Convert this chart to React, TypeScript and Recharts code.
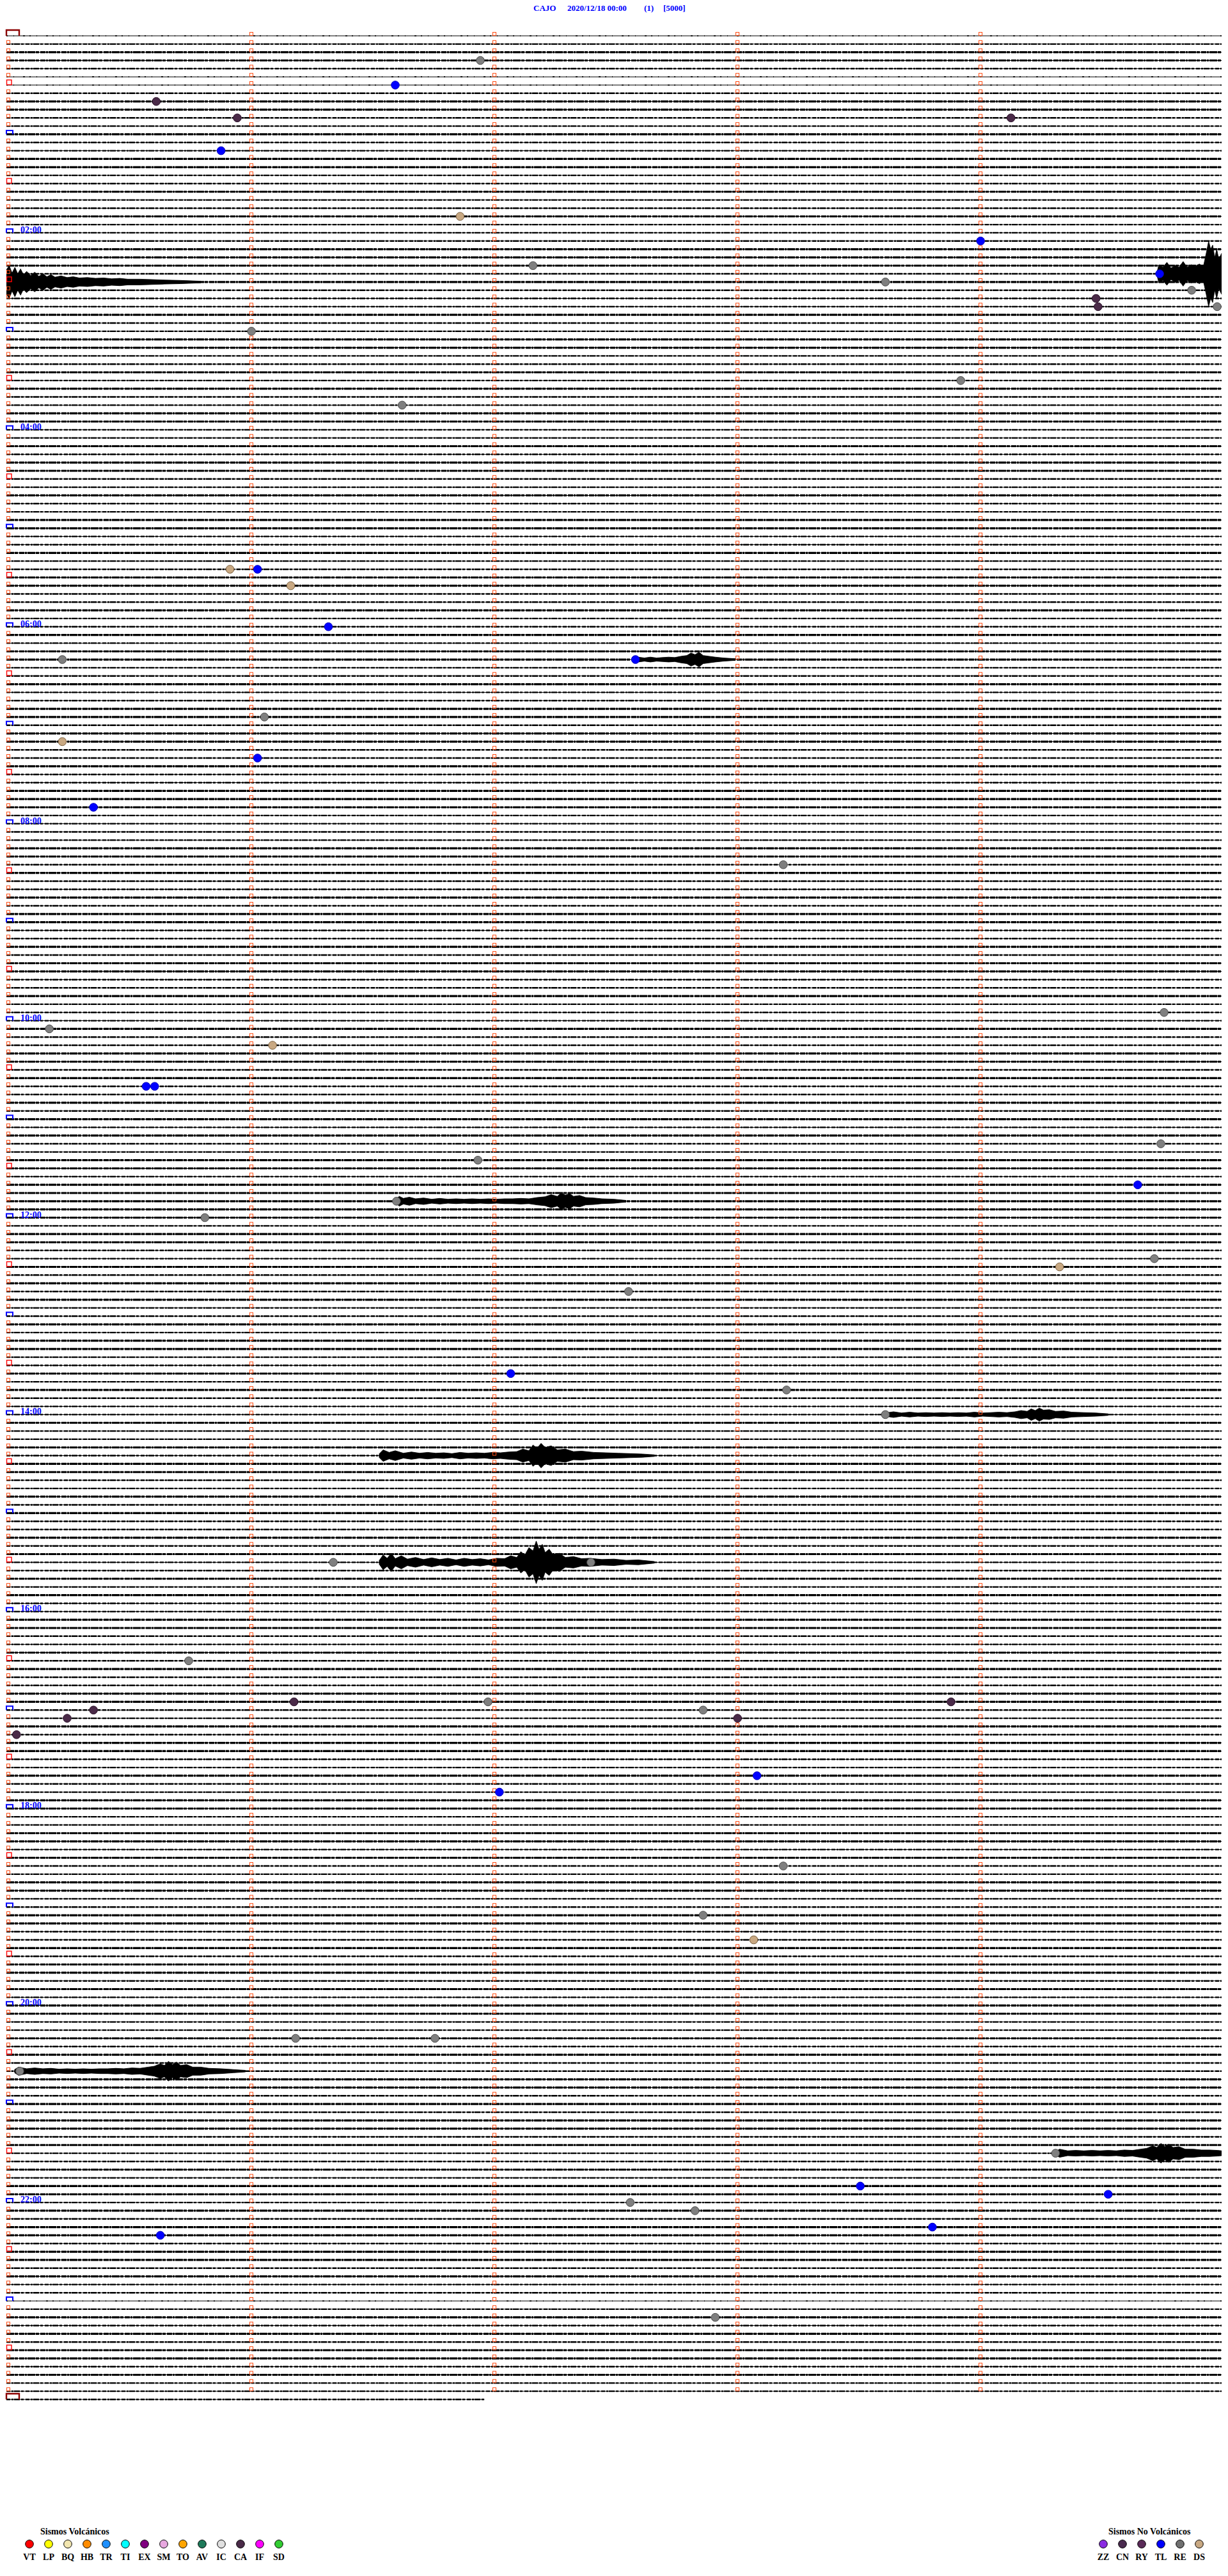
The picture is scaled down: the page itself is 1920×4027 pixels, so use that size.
import React from 'react';
import { ComposedChart, XAxis, YAxis, ReferenceLine, Scatter, Area } from 'recharts';

const W = 1920;
const H = 4027;
const LAST_LINE = 288; // 24:00, 5-minute lines
const lastLineEnd = 118; // seconds drawn on the final line
const minuteMarks = [0, 60, 120, 180, 240];

// noise level per 5-minute line (0 quiet .. 3 noisy), one row per hour
const noiseLevel: number[] = [
  0, 1, 2, 2, 1, 0, 0, 1, 2, 2, 1, 1,
  2, 1, 1, 2, 2, 1, 1, 2, 1, 1, 2, 1,
  1, 1, 2, 2, 2, 1, 2, 1, 1, 1, 2, 1,
  1, 2, 2, 1, 1, 2, 1, 2, 1, 1, 2, 2,
  1, 1, 2, 1, 2, 2, 1, 1, 2, 1, 1, 2,
  2, 1, 1, 2, 1, 1, 2, 2, 1, 1, 2, 1,
  1, 2, 1, 2, 2, 1, 1, 2, 1, 1, 2, 2,
  1, 2, 2, 1, 1, 2, 1, 1, 2, 2, 2, 1,
  1, 1, 1, 2, 2, 1, 2, 1, 1, 2, 1, 2,
  2, 1, 1, 2, 1, 2, 2, 1, 1, 2, 1, 1,
  1, 2, 1, 1, 2, 2, 1, 2, 1, 1, 2, 1,
  2, 1, 2, 1, 1, 2, 2, 1, 2, 2, 2, 2,
  2, 1, 2, 2, 1, 1, 2, 1, 2, 1, 2, 1,
  1, 2, 1, 2, 2, 1, 1, 2, 1, 2, 1, 1,
  1, 2, 1, 1, 2, 1, 2, 2, 1, 1, 2, 1,
  2, 1, 1, 2, 1, 2, 1, 1, 2, 1, 2, 1,
  1, 2, 2, 1, 1, 2, 1, 2, 1, 1, 2, 2,
  1, 1, 2, 1, 2, 2, 1, 1, 2, 1, 1, 2,
  2, 1, 1, 2, 2, 1, 2, 1, 1, 2, 2, 1,
  1, 2, 2, 1, 1, 2, 1, 2, 2, 1, 2, 1,
  2, 2, 1, 1, 2, 1, 2, 1, 1, 2, 2, 1,
  2, 1, 2, 2, 1, 2, 1, 1, 2, 1, 2, 2,
  1, 2, 1, 2, 2, 1, 2, 2, 1, 2, 1, 1,
  0, 1, 2, 1, 2, 1, 2, 2, 1, 2, 1, 1,
  1,
];
const noiseWidth = [1.6, 2.4, 3.2, 3.8];
const noiseDash = ['2 9 1 14 3 7', '6 2 3 1 9 2 4 3', '12 1 5 2 8 1 3 1', '20 1 9 1'];

// classified events: line index, time in seconds within the line, type
const markerLine = [
  3, 6, 8, 10, 10, 14, 22, 25, 28, 29, 30, 31, 32, 33, 33, 36, 42, 45,
  65, 65, 67, 72, 76, 76, 83, 86, 88, 94, 101, 119, 121, 123, 128, 128,
  135, 137, 140, 142, 144, 149, 150, 153, 163, 165, 168, 186, 186, 198,
  203, 203, 203, 204, 204, 205, 205, 207, 212, 214, 223, 229, 232, 244,
  244, 248, 258, 262, 263, 264, 265, 267, 268, 278,
];
const markerTime = [
  117, 96, 37, 57, 248, 53, 112, 240.5, 130, 284.7, 217, 292.6, 269, 269.5, 298.9, 60.5, 235.6, 97.7,
  55.2, 62, 70.2, 79.5, 13.8, 155.3, 63.7, 13.8, 62, 21.5, 191.8, 285.8, 10.6, 65.7, 34.5, 36.6,
  285, 116.4, 279.3, 96.3, 49, 283.4, 260, 153.6, 124.5, 192.6, 217, 80.7, 144.3, 45,
  71, 118.9, 233.2, 21.5, 172, 15, 180.5, 2.5, 185.3, 121.7, 191.8, 172, 184.5, 71.4,
  105.8, 3.3, 259, 210.8, 272, 154, 170, 228.6, 38, 175,
];
const markerType = [
  'RE', 'TL', 'CA', 'CA', 'CA', 'TL', 'DS', 'TL', 'RE', 'TL', 'RE', 'RE', 'CA', 'CA', 'RE', 'RE', 'RE', 'RE',
  'DS', 'TL', 'DS', 'TL', 'RE', 'TL', 'RE', 'DS', 'TL', 'TL', 'RE', 'RE', 'RE', 'DS', 'TL', 'TL',
  'RE', 'RE', 'TL', 'RE', 'RE', 'RE', 'DS', 'RE', 'TL', 'RE', 'RE', 'RE', 'RE', 'RE',
  'CA', 'RE', 'CA', 'CA', 'RE', 'CA', 'CA', 'CA', 'TL', 'TL', 'RE', 'RE', 'DS', 'RE',
  'RE', 'RE', 'RE', 'TL', 'TL', 'RE', 'RE', 'TL', 'TL', 'RE',
];

// large-amplitude signals: envelope half-amplitude in line units
const evA_line = 29;
const evA_t = [284, 284.5, 285.5, 286.5, 287.5, 288.5, 289.5, 290.5, 291.5, 292.5, 293.5, 294.5, 295.5, 296.2, 296.8, 297.3, 297.8, 298.3, 298.8, 299.3, 300];
const evA_a = [0.1, 1.1, 0.8, 1.4, 0.7, 1.0, 0.8, 1.5, 0.8, 1.1, 0.9, 1.2, 0.9, 2.5, 4.0, 3.0, 3.5, 2.0, 3.0, 1.8, 2.5];
const evB_line = 30;
const evB_t = [0, 0.7, 1.4, 2.1, 2.8, 3.5, 4.2, 5, 6, 7, 8, 9, 10, 11, 12, 13.5, 15, 16.5, 18, 20, 22, 24, 26, 28, 30, 33, 36, 39, 43, 48];
const evB_a = [1.5, 2.0, 1.1, 1.8, 1.0, 1.6, 0.9, 1.3, 0.8, 1.2, 0.7, 1.0, 0.65, 0.9, 0.6, 0.75, 0.55, 0.65, 0.5, 0.55, 0.45, 0.5, 0.4, 0.45, 0.35, 0.35, 0.3, 0.25, 0.2, 0.1];
const evC_line = 76;
const evC_t = [155, 156, 157.5, 159, 160.5, 162, 163.5, 165, 166.5, 168, 169, 170, 171, 172, 173.5, 175, 177, 180];
const evC_a = [0.15, 0.3, 0.2, 0.3, 0.2, 0.25, 0.3, 0.25, 0.4, 0.5, 0.8, 0.6, 0.9, 0.5, 0.4, 0.3, 0.2, 0.1];
const evD_line = 142;
const evD_t = [96, 97, 98, 99.5, 101, 103, 105, 107, 109, 111, 113, 115, 117, 119, 121, 123, 125, 127, 129, 131, 133, 134.5, 136, 137, 138, 139, 140, 141.5, 143, 145, 147, 150, 153];
const evD_a = [0.2, 0.6, 0.35, 0.5, 0.3, 0.4, 0.25, 0.35, 0.25, 0.3, 0.25, 0.3, 0.25, 0.3, 0.25, 0.3, 0.3, 0.35, 0.3, 0.45, 0.55, 0.8, 0.6, 1.0, 0.75, 0.95, 0.6, 0.7, 0.45, 0.4, 0.3, 0.25, 0.1];
const evE_line = 168;
const evE_t = [217, 219, 221, 223, 225, 227, 229, 231, 233, 235, 237, 239, 241, 243, 245, 247, 249, 250.5, 252, 253, 254, 255, 256, 257.5, 259, 261, 263, 266, 269, 272];
const evE_a = [0.2, 0.35, 0.2, 0.3, 0.2, 0.25, 0.2, 0.25, 0.2, 0.25, 0.2, 0.3, 0.2, 0.25, 0.3, 0.25, 0.35, 0.5, 0.4, 0.7, 0.5, 0.8, 0.55, 0.6, 0.4, 0.45, 0.3, 0.25, 0.2, 0.1];
const evF_line = 173;
const evF_t = [92, 93, 94.5, 96, 98, 100, 102, 104, 106, 108, 110, 112, 114, 116, 118, 120, 122, 124, 126, 127.5, 129, 130, 131, 132, 133, 134.5, 136, 138, 140, 142, 145, 148, 151, 154, 157, 160];
const evF_a = [0.2, 0.7, 0.4, 0.6, 0.3, 0.45, 0.3, 0.4, 0.3, 0.35, 0.25, 0.4, 0.3, 0.35, 0.3, 0.4, 0.35, 0.45, 0.5, 0.8, 0.6, 1.3, 0.9, 1.5, 1.0, 1.2, 0.7, 0.8, 0.5, 0.55, 0.4, 0.35, 0.3, 0.25, 0.2, 0.1];
const evG_line = 186;
const evG_t = [92, 93, 94, 95, 96, 97.5, 99, 101, 103, 105, 107, 109, 111, 113, 115, 117, 119, 121, 123, 124.5, 126, 127, 128, 129, 130, 130.8, 131.5, 132.3, 133, 134, 135, 136.5, 138, 140, 142, 144, 147, 150, 153, 156, 160];
const evG_a = [0.2, 0.9, 0.5, 1.1, 0.45, 0.8, 0.4, 0.6, 0.35, 0.55, 0.35, 0.5, 0.3, 0.5, 0.35, 0.45, 0.3, 0.5, 0.45, 0.8, 0.6, 1.3, 0.9, 1.8, 1.4, 2.6, 1.6, 2.2, 1.2, 1.6, 0.9, 1.1, 0.6, 0.7, 0.45, 0.5, 0.35, 0.4, 0.25, 0.3, 0.1];
const evH_line = 248;
const evH_t = [2, 3, 5, 7, 9, 11, 13, 15, 17, 19, 21, 23, 25, 27, 29, 31, 33, 35, 36.5, 38, 39, 40, 41, 42, 43, 44.5, 46, 48, 50, 53, 56, 59];
const evH_a = [0.2, 0.5, 0.3, 0.4, 0.3, 0.35, 0.25, 0.3, 0.25, 0.3, 0.25, 0.3, 0.3, 0.35, 0.3, 0.4, 0.35, 0.5, 0.6, 0.9, 0.7, 1.2, 0.8, 1.1, 0.7, 0.8, 0.5, 0.5, 0.35, 0.3, 0.2, 0.1];
const evI_line = 258;
const evI_t = [259, 260, 262, 264, 266, 268, 270, 272, 274, 276, 278, 280, 281.5, 283, 284, 285, 286, 287, 288, 289.5, 291, 293, 295, 297, 299, 300];
const evI_a = [0.2, 0.5, 0.3, 0.35, 0.3, 0.35, 0.3, 0.35, 0.3, 0.4, 0.35, 0.5, 0.6, 0.9, 0.7, 1.2, 0.8, 1.1, 0.7, 0.8, 0.5, 0.5, 0.4, 0.4, 0.35, 0.3];

const eventSets = [
  [evA_line, evA_t, evA_a], [evB_line, evB_t, evB_a], [evC_line, evC_t, evC_a],
  [evD_line, evD_t, evD_a], [evE_line, evE_t, evE_a], [evF_line, evF_t, evF_a],
  [evG_line, evG_t, evG_a], [evH_line, evH_t, evH_a], [evI_line, evI_t, evI_a],
] as [number, number[], number[]][];

// legends
const volcanicCodes = ['VT', 'LP', 'BQ', 'HB', 'TR', 'TI', 'EX', 'SM', 'TO', 'AV', 'IC', 'CA', 'IF', 'SD'];
const volcanicColors = ['#FF0000', '#FFFF00', '#F2E6B0', '#FF8C00', '#1E90FF', '#00FFFF', '#800080', '#E8A8E0', '#FFA500', '#1E7A5A', '#E0E0E0', '#4A2A48', '#FF00FF', '#32CD32'];
const otherCodes = ['ZZ', 'CN', 'RY', 'TL', 'RE', 'DS'];
const otherColors = ['#8A2BE2', '#4A2A4E', '#5A2A58', '#0000FF', '#707070', '#C8A882'];

const markerFill: Record<string, string> = { RE: '#7F7F7F', TL: '#0000FF', DS: '#C8A882', CA: '#4A2A48' };
const markerStroke: Record<string, string> = { RE: '#4A4A4A', TL: '#0000C0', DS: '#7A6040', CA: '#2A1028' };

const titleParts = ['CAJO', '2020/12/18 00:00', '(1)', '[5000]'];
const titleX = [834, 887, 1007, 1037];

const lines = Array.from({ length: LAST_LINE + 1 }, (_, i) => i);

const gridMarks = lines.flatMap((line) => {
  if (line === LAST_LINE) return [{ t: 0, line, kind: 'day' }];
  return minuteMarks.map((t) => {
    let kind = 'min';
    if (t === 0) {
      if (line === 0) kind = 'day';
      else if (line % 12 === 0) kind = 'hour';
      else if (line % 12 === 6) kind = 'half';
    }
    return { t, line, kind };
  });
});

const markerData = markerLine.map((line, i) => ({ line, t: markerTime[i], type: markerType[i] }));

const GridMark = (props: any) => {
  const { cx, cy, payload } = props;
  if (cx == null || cy == null) return <g />;
  const k = payload.kind;
  if (k === 'min') {
    return <rect x={cx + 0.5} y={cy - 5.5} width={5} height={5} fill="none" stroke="#FF4A10" strokeWidth={1} />;
  }
  if (k === 'half') {
    return <rect x={cx + 0.5} y={cy - 8} width={7.5} height={7.5} fill="none" stroke="#FF0000" strokeWidth={1.4} />;
  }
  if (k === 'day') {
    return (
      <path d={`M${cx} ${cy} V${cy - 9} H${cx + 20} V${cy}`} fill="none" stroke="#8B0000" strokeWidth={2.4} />
    );
  }
  const hh = payload.line / 12;
  const label = hh % 2 === 0 ? `${String(hh).padStart(2, '0')}:00` : '';
  return (
    <g>
      <path d={`M${cx} ${cy} V${cy - 6} H${cx + 10} V${cy}`} fill="none" stroke="#0000FF" strokeWidth={2} />
      {label && (
        <text x={cx + 22} y={cy} fill="#0000FF" fontFamily="Liberation Serif" fontWeight="bold" fontSize={14}>
          {label}
        </text>
      )}
    </g>
  );
};

const EventMark = (props: any) => {
  const { cx, cy, payload } = props;
  if (cx == null || cy == null) return <g />;
  return (
    <circle cx={cx} cy={cy} r={6.3} fill={markerFill[payload.type]} stroke={markerStroke[payload.type]} strokeWidth={1} />
  );
};

export default function App() {
  return (
    <div style={{ position: 'absolute', left: 0, top: 0, width: W, height: H, background: '#fff', overflow: 'hidden' }}>
      <ComposedChart width={W} height={H} margin={{ top: 56, right: 10, bottom: 276, left: 10 }}>
        <XAxis type="number" dataKey="t" domain={[0, 300]} hide />
        <YAxis type="number" dataKey="line" domain={[0, LAST_LINE]} reversed hide />
        {lines.map((line) =>
          line === LAST_LINE ? (
            <ReferenceLine
              key={`tr${line}`}
              segment={[{ x: 0, y: line }, { x: lastLineEnd, y: line }]}
              stroke="#000"
              strokeWidth={1}
            />
          ) : (
            <ReferenceLine key={`tr${line}`} y={line} stroke="#000" strokeWidth={1} />
          )
        )}
        {lines.map((line) =>
          line === LAST_LINE ? (
            <ReferenceLine
              key={`nz${line}`}
              segment={[{ x: 0, y: line }, { x: lastLineEnd, y: line }]}
              stroke="#000"
              strokeWidth={noiseWidth[noiseLevel[line]]}
              strokeDasharray={noiseDash[noiseLevel[line]]}
            />
          ) : (
            <ReferenceLine
              key={`nz${line}`}
              y={line}
              stroke="#000"
              strokeWidth={noiseWidth[noiseLevel[line]]}
              strokeDasharray={noiseDash[noiseLevel[line]]}
            />
          )
        )}
        {eventSets.map(([line, ts, as], k) => (
          <Area
            key={`ev${k}`}
            data={ts.map((t, i) => ({ t, line, a: as[i] }))}
            dataKey={(d: any) => [d.line - d.a, d.line + d.a]}
            type="linear"
            fill="#000"
            fillOpacity={1}
            stroke="#000"
            strokeWidth={0.8}
            dot={false}
            activeDot={false}
            isAnimationActive={false}
          />
        ))}
        <Scatter data={gridMarks} dataKey="line" shape={GridMark} isAnimationActive={false} />
        <Scatter data={markerData} dataKey="line" shape={EventMark} isAnimationActive={false} />
      </ComposedChart>
      <svg width={W} height={H} style={{ position: 'absolute', left: 0, top: 0, pointerEvents: 'none' }}>
        {titleParts.map((s, i) => (
          <text key={s} x={titleX[i]} y={17} fill="#0000FF" fontFamily="Liberation Serif" fontWeight="bold" fontSize={13}>
            {s}
          </text>
        ))}
        <text x={63} y={3962} fill="#000" fontFamily="Liberation Serif" fontWeight="bold" fontSize={14}>
          Sismos Volcánicos
        </text>
        {volcanicCodes.map((c, i) => (
          <g key={c}>
            <circle cx={46 + i * 30} cy={3977} r={6.3} fill={volcanicColors[i]} stroke="#000" strokeWidth={1} />
            <text x={46 + i * 30} y={4002} textAnchor="middle" fill="#000" fontFamily="Liberation Serif" fontWeight="bold" fontSize={14}>
              {c}
            </text>
          </g>
        ))}
        <text x={1733} y={3962} fill="#000" fontFamily="Liberation Serif" fontWeight="bold" fontSize={14}>
          Sismos No Volcánicos
        </text>
        {otherCodes.map((c, i) => (
          <g key={c}>
            <circle cx={1725 + i * 30} cy={3977} r={6.3} fill={otherColors[i]} stroke="#000" strokeWidth={1} />
            <text x={1725 + i * 30} y={4002} textAnchor="middle" fill="#000" fontFamily="Liberation Serif" fontWeight="bold" fontSize={14}>
              {c}
            </text>
          </g>
        ))}
      </svg>
    </div>
  );
}
